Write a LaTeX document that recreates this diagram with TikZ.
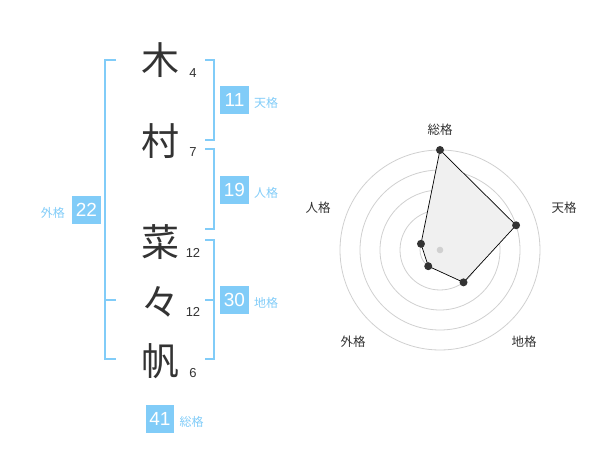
\documentclass[tikz,border=0pt]{standalone}
\usepackage{fontspec}
\setmainfont{Liberation Sans}
\newfontfamily\jpfont{Noto Sans CJK JP}
\usepackage{tikz}
\usetikzlibrary{positioning}
\definecolor{kakublue}{RGB}{129,204,248}
\definecolor{inkgray}{RGB}{51,51,51}
\definecolor{ringgray}{RGB}{208,208,208}
\definecolor{areagray}{RGB}{240,240,240}

\begin{document}
\begin{tikzpicture}[
    x=1pt, y=-1pt,
    kanji/.style={font=\jpfont\fontsize{38}{38}\selectfont, text=inkgray, inner sep=0pt},
    strokes/.style={font=\fontsize{13}{13}\selectfont, text=inkgray, inner sep=0pt},
    kaku/.style={fill=kakublue, text=white, font=\fontsize{19}{19}\selectfont, minimum size=28.5pt, inner sep=0pt},
    kakulabel/.style={font=\jpfont\fontsize{12}{12}\selectfont, text=kakublue, inner sep=0pt},
    bracket/.style={draw=kakublue, line width=2pt},
    ring/.style={draw=ringgray, line width=0.8pt},
    axislabel/.style={font=\jpfont\fontsize{12.5}{12.5}\selectfont, text=inkgray, inner sep=0pt}
]
\useasboundingbox (0,0) rectangle (600,470);

% Name
\node[kanji] (ki) at (160,60) {木};
\node[kanji] (mura) at (160,141) {村};
\node[kanji] (na) at (160,242) {菜};
\node[kanji] (noma) at (160,302) {々};
\node[kanji] (ho) at (160,361) {帆};

% Stroke counts
\node[strokes] (s1) at (193,73) {4};
\node[strokes] (s2) at (193,152) {7};
\node[strokes] (s3) at (193,253) {12};
\node[strokes] (s4) at (193,312) {12};
\node[strokes] (s5) at (193,373) {6};

% Brackets
\draw[bracket] (116,60) -- (105,60) -- (105,359) -- (116,359);
\draw[bracket] (105,300) -- (116,300);
\draw[bracket] (205,60) -- (214,60) -- (214,140) -- (205,140);
\draw[bracket] (205,149) -- (214,149) -- (214,229) -- (205,229);
\draw[bracket] (205,240) -- (214,240) -- (214,359) -- (205,359);
\draw[bracket] (205,300) -- (214,300);

% Boxes
\node[kaku] (ten) at (234.5,100) {11};
\node[kakulabel, right=5pt of ten, yshift=-3pt] {天格};
\node[kaku] (jin) at (234.5,190) {19};
\node[kakulabel, right=5pt of jin, yshift=-3pt] {人格};
\node[kaku] (gai) at (86.5,210) {22};
\node[kakulabel, left=7pt of gai, yshift=-3pt] {外格};
\node[kaku] (chi) at (234.5,300) {30};
\node[kakulabel, right=5pt of chi, yshift=-3pt] {地格};
\node[kaku] (sou) at (160,419) {41};
\node[kakulabel, right=5pt of sou, yshift=-3pt] {総格};

% Radar chart
\begin{scope}[shift={(440,250)}, y=1pt]
  \foreach \r in {20,40,...,100}
    \draw[ring] (0,0) circle (\r pt);
  \coordinate (rsou) at (90:100);
  \coordinate (rten) at (18:80);
  \coordinate (rchi) at (-54:40);
  \coordinate (rgai) at (-126:20);
  \coordinate (rjin) at (162:20);
  \filldraw[fill=areagray, draw=black, line width=0.7pt]
    (rsou) -- (rten) -- (rchi) -- (rgai) -- (rjin) -- cycle;
  \fill[ringgray] (0,0) circle (3.3pt);
  \foreach \p in {rsou,rten,rchi,rgai,rjin}
    \fill[inkgray] (\p) circle (4pt);
  % Axis labels
  \node[axislabel] (lsou) at (0,120) {総格};
  \node[axislabel] (lten) at (124,42) {天格};
  \node[axislabel] (lchi) at (84,-92) {地格};
  \node[axislabel] (lgai) at (-87,-92) {外格};
  \node[axislabel] (ljin) at (-122,42) {人格};
\end{scope}

\end{tikzpicture}
\end{document}
